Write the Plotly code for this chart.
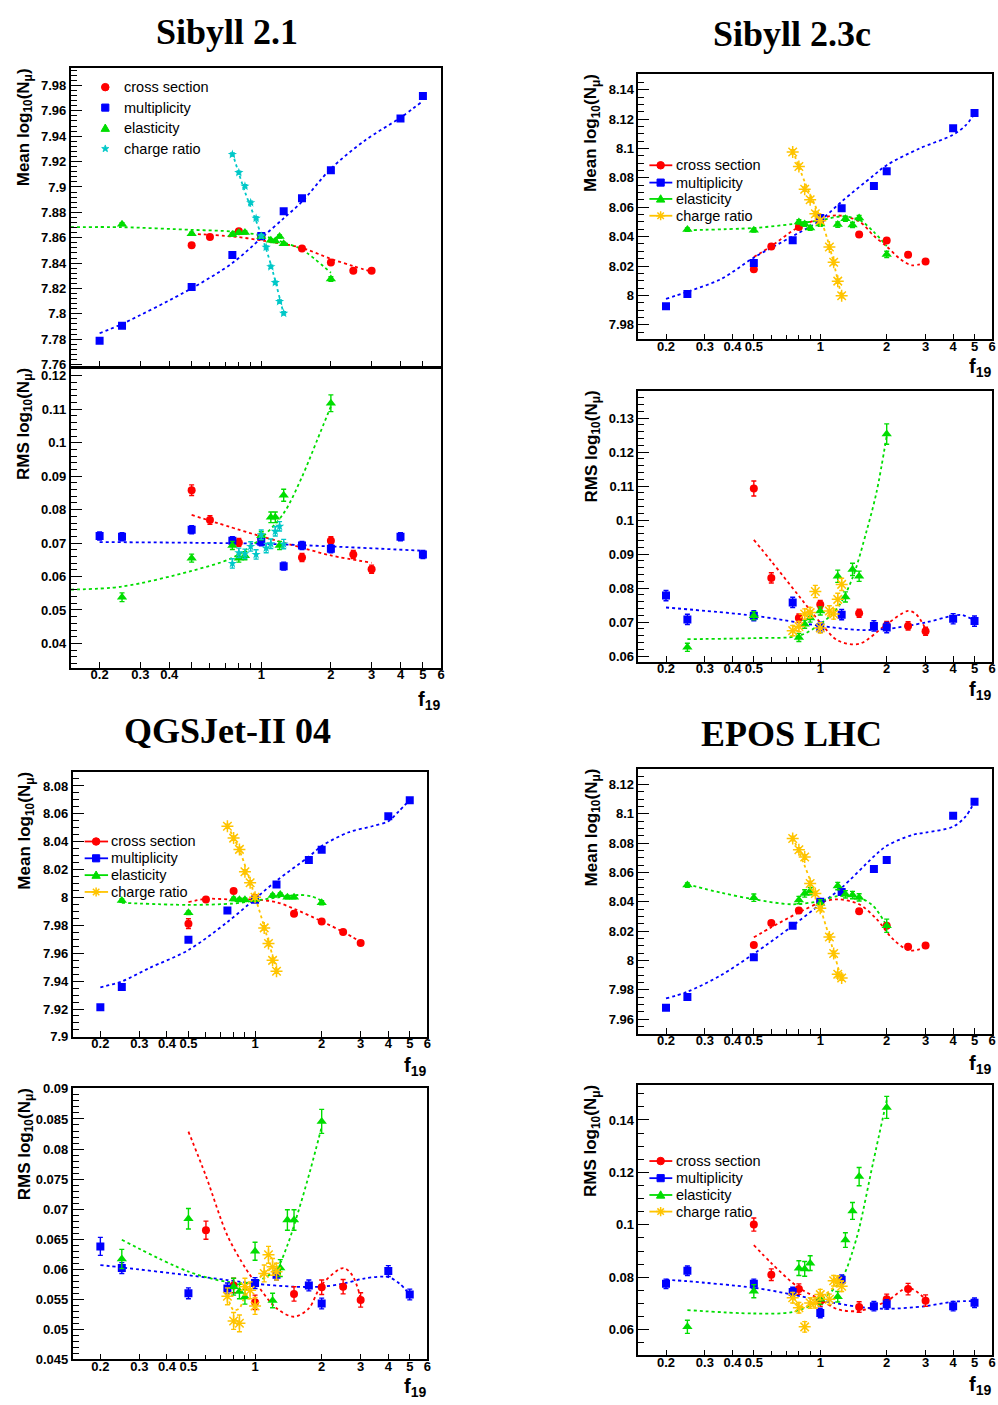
import math
import plotly.graph_objects as go

W, H = 998, 1405

# ---------------- colours / names ----------------
RED, BLUE, GREEN, YELLOW, CYAN = "#ff0000", "#0000ff", "#00dd00", "#ffc400", "#00c8c8"
SERIES_NAMES = ["cross section", "multiplicity", "elasticity", "charge ratio"]
MODEL_TITLES = ["Sibyll 2.1", "Sibyll 2.3c", "QGSJet-II 04", "EPOS LHC"]

# ---------------- tick labels ----------------
X_TICKS = [0.2, 0.3, 0.4, 0.5, 1, 2, 3, 4, 5, 6]
X_TICK_TEXT = ["0.2", "0.3", "0.4", "0.5", "1", "2", "3", "4", "5", "6"]
X_TICK_TEXT_S21 = ["0.2", "0.3", "0.4", "", "1", "2", "3", "4", "5", "6"]
X_MINOR = [0.6, 0.7, 0.8, 0.9]
X_RANGE = [0.15, 6]

Y1_TICKS = [7.76, 7.78, 7.8, 7.82, 7.84, 7.86, 7.88, 7.9, 7.92, 7.94, 7.96, 7.98]
Y2_TICKS = [0.04, 0.05, 0.06, 0.07, 0.08, 0.09, 0.1, 0.11, 0.12]
Y3_TICKS = [7.98, 8, 8.02, 8.04, 8.06, 8.08, 8.1, 8.12, 8.14]
Y4_TICKS = [0.06, 0.07, 0.08, 0.09, 0.1, 0.11, 0.12, 0.13]
Y5_TICKS = [7.9, 7.92, 7.94, 7.96, 7.98, 8, 8.02, 8.04, 8.06, 8.08]
Y6_TICKS = [0.045, 0.05, 0.055, 0.06, 0.065, 0.07, 0.075, 0.08, 0.085, 0.09]
Y7_TICKS = [7.96, 7.98, 8, 8.02, 8.04, 8.06, 8.08, 8.1, 8.12]
Y8_TICKS = [0.06, 0.08, 0.1, 0.12, 0.14]

# ================= Sibyll 2.1 =================
S21_CS_X = [0.5, 0.6, 0.8, 1, 1.5, 2, 2.5, 3]
S21_MU_X = [0.2, 0.25, 0.5, 0.75, 1, 1.25, 1.5, 2, 4, 5]
S21_EL_X = [0.25, 0.5, 0.75, 0.8, 0.85, 1, 1.1, 1.15, 1.2, 1.25, 2]
S21_CR_X = [0.75, 0.8, 0.85, 0.9, 0.95, 1, 1.05, 1.1, 1.15, 1.2, 1.25]

S21_CS_MEAN = [7.854, 7.8605, 7.865, 7.861, 7.8515, 7.8405, 7.834, 7.834]
S21_MU_MEAN = [7.7788, 7.7907, 7.8212, 7.8464, 7.8613, 7.8808, 7.8912, 7.9131, 7.954, 7.9717]
S21_EL_MEAN = [7.8707, 7.8631, 7.8626, 7.8639, 7.8641, 7.861, 7.8579, 7.8574, 7.861, 7.8553, 7.8274]
S21_CR_MEAN = [7.9256, 7.9113, 7.9006, 7.8876, 7.8753, 7.8613, 7.8524, 7.8371, 7.8246, 7.8097, 7.8004]
S21_CS_MEAN_ERR = [0.0012, 0.0012, 0.0012, 0.0012, 0.0012, 0.0012, 0.0012, 0.0012]
S21_MU_MEAN_ERR = [0.0012, 0.0012, 0.0012, 0.0012, 0.0012, 0.0012, 0.0012, 0.0012, 0.0012, 0.0012]
S21_EL_MEAN_ERR = [0.0012, 0.0012, 0.0012, 0.0012, 0.0012, 0.0012, 0.0012, 0.0012, 0.0012, 0.0012, 0.0018]
S21_CR_MEAN_ERR = [0.0012, 0.0012, 0.0012, 0.0012, 0.0012, 0.0012, 0.0012, 0.0012, 0.0012, 0.0012, 0.0012]

S21_CS_RMS = [0.0858, 0.0769, 0.0702, 0.0715, 0.0657, 0.0707, 0.0666, 0.0622]
S21_MU_RMS = [0.0721, 0.0719, 0.074, 0.0707, 0.0704, 0.0631, 0.0693, 0.0683, 0.0719, 0.0666]
S21_EL_RMS = [0.0538, 0.0655, 0.0693, 0.0655, 0.0662, 0.0722, 0.0777, 0.0777, 0.0693, 0.0843, 0.1118]
S21_CR_RMS = [0.0639, 0.0671, 0.0668, 0.069, 0.0666, 0.0725, 0.0685, 0.0698, 0.0735, 0.075, 0.0697]
S21_CS_RMS_ERR = [0.0016, 0.0013, 0.0012, 0.0012, 0.0012, 0.0012, 0.0012, 0.0012]
S21_MU_RMS_ERR = [0.0012, 0.0012, 0.0012, 0.0012, 0.0012, 0.0012, 0.0012, 0.0012, 0.0012, 0.0012]
S21_EL_RMS_ERR = [0.0013, 0.0012, 0.0012, 0.0012, 0.0012, 0.0012, 0.0016, 0.0016, 0.0012, 0.0018, 0.0025]
S21_CR_RMS_ERR = [0.0014, 0.0014, 0.0014, 0.0014, 0.0014, 0.0014, 0.0014, 0.0014, 0.0014, 0.0014, 0.0014]

FIT_S21_CS_MEAN_X = [0.5, 0.75, 1, 1.5, 2, 2.5, 3]
FIT_S21_CS_MEAN_Y = [7.8631, 7.861, 7.8579, 7.8519, 7.8433, 7.8376, 7.8332]
FIT_S21_MU_MEAN_X = [0.2, 0.25, 0.5, 0.75, 1, 1.25, 1.5, 2, 2.8, 4, 5]
FIT_S21_MU_MEAN_Y = [7.7847, 7.792, 7.8201, 7.840, 7.8597, 7.8753, 7.8884, 7.9144, 7.9365, 7.9547, 7.9678]
FIT_S21_EL_MEAN_X = [0.15, 0.25, 0.5, 0.75, 1, 1.25, 1.5, 2]
FIT_S21_EL_MEAN_Y = [7.8683, 7.8683, 7.8662, 7.8649, 7.8618, 7.8563, 7.8506, 7.8324]
FIT_S21_CR_MEAN_X = [0.75, 0.85, 1, 1.1, 1.25]
FIT_S21_CR_MEAN_Y = [7.9269, 7.8962, 7.8623, 7.8389, 7.7998]

FIT_S21_CS_RMS_X = [0.5, 0.8, 1, 1.5, 2, 3]
FIT_S21_CS_RMS_Y = [0.0784, 0.074, 0.072, 0.0686, 0.0663, 0.0641]
FIT_S21_MU_RMS_X = [0.2, 0.5, 1, 2, 5]
FIT_S21_MU_RMS_Y = [0.0703, 0.0701, 0.0698, 0.069, 0.0677]
FIT_S21_EL_RMS_X = [0.15, 0.25, 0.5, 0.75, 1, 1.25, 1.5, 1.75, 2]
FIT_S21_EL_RMS_Y = [0.0561, 0.057, 0.0617, 0.0656, 0.0715, 0.0789, 0.0898, 0.101, 0.1109]

# ================= Sibyll 2.3c =================
S23_CS_X = [0.5, 0.6, 0.8, 1, 1.5, 2, 2.5, 3]
S23_MU_X = [0.2, 0.25, 0.5, 0.75, 1, 1.25, 1.75, 2, 4, 5]
S23_EL_X = [0.25, 0.5, 0.8, 0.85, 0.9, 1, 1.2, 1.3, 1.4, 1.5, 2]
S23_CR_X = [0.75, 0.8, 0.85, 0.9, 0.95, 1, 1.1, 1.15, 1.2, 1.25]

S23_CS_MEAN = [8.0178, 8.0333, 8.0466, 8.051, 8.0414, 8.0374, 8.0277, 8.023]
S23_MU_MEAN = [7.9926, 8.0009, 8.0221, 8.0376, 8.0527, 8.0594, 8.0745, 8.0846, 8.1139, 8.1242]
S23_EL_MEAN = [8.0448, 8.0444, 8.05, 8.0486, 8.0459, 8.0486, 8.0482, 8.0522, 8.048, 8.0527, 8.0279]
S23_CR_MEAN = [8.0977, 8.0878, 8.0723, 8.0651, 8.0556, 8.0509, 8.0329, 8.0225, 8.0097, 7.9998]
S23_CS_MEAN_ERR = [0.0015, 0.0015, 0.0015, 0.0015, 0.0015, 0.0015, 0.0015, 0.0015]
S23_MU_MEAN_ERR = [0.0012, 0.0012, 0.0012, 0.0012, 0.0012, 0.0012, 0.0012, 0.0012, 0.0012, 0.0012]
S23_EL_MEAN_ERR = [0.0012, 0.0012, 0.0015, 0.0015, 0.0015, 0.0015, 0.0018, 0.0018, 0.0018, 0.0018, 0.0022]
S23_CR_MEAN_ERR = [0.0015, 0.0015, 0.0015, 0.0015, 0.0015, 0.0015, 0.0015, 0.0015, 0.0015, 0.0015]

S23_CS_RMS = [0.1093, 0.083, 0.0712, 0.0752, 0.0726, 0.069, 0.0689, 0.0673]
S23_MU_RMS = [0.0778, 0.0708, 0.0719, 0.0758, 0.0685, 0.0722, 0.0689, 0.0684, 0.071, 0.0703]
S23_EL_RMS = [0.0626, 0.0719, 0.0655, 0.0694, 0.0712, 0.0733, 0.0835, 0.0774, 0.0855, 0.0835, 0.1253]
S23_CR_RMS = [0.0675, 0.0687, 0.0724, 0.0728, 0.079, 0.0683, 0.0733, 0.0724, 0.0767, 0.0811]
S23_CS_RMS_ERR = [0.0022, 0.0015, 0.0012, 0.0012, 0.0012, 0.0012, 0.0012, 0.0012]
S23_MU_RMS_ERR = [0.0015, 0.0015, 0.0015, 0.0015, 0.0015, 0.0015, 0.0015, 0.0015, 0.0015, 0.0015]
S23_EL_RMS_ERR = [0.0012, 0.0012, 0.0012, 0.0012, 0.0012, 0.0012, 0.0018, 0.0015, 0.0018, 0.0015, 0.0030]
S23_CR_RMS_ERR = [0.0015, 0.0015, 0.0015, 0.0015, 0.0018, 0.0015, 0.0015, 0.0015, 0.0018, 0.0018]

FIT_S23_CS_MEAN_X = [0.5, 0.6, 0.8, 1, 1.2, 1.5, 1.75, 2, 2.3, 2.6, 3]
FIT_S23_CS_MEAN_Y = [8.0261, 8.0336, 8.0466, 8.0522, 8.0545, 8.0504, 8.0405, 8.0333, 8.0248, 8.0205, 8.0223]
FIT_S23_MU_MEAN_X = [0.2, 0.25, 0.355, 0.5, 0.75, 1, 1.25, 1.75, 2, 2.8, 4, 4.55, 5]
FIT_S23_MU_MEAN_Y = [7.9976, 8.0025, 8.0111, 8.0257, 8.0403, 8.0511, 8.0639, 8.0819, 8.0887, 8.0999, 8.1094, 8.1157, 8.1236]
FIT_S23_EL_MEAN_X = [0.25, 0.5, 0.75, 1, 1.25, 1.5, 1.735, 2]
FIT_S23_EL_MEAN_Y = [8.0444, 8.0459, 8.0486, 8.0511, 8.0538, 8.0516, 8.0437, 8.0336]
FIT_S23_CR_MEAN_X = [0.75, 0.85, 1, 1.1, 1.25]
FIT_S23_CR_MEAN_Y = [8.0988, 8.0774, 8.0527, 8.0336, 7.9987]

FIT_S23_CS_RMS_X = [0.5, 0.6, 0.8, 1, 1.2, 1.5, 2, 2.5, 2.72, 3]
FIT_S23_CS_RMS_Y = [0.0942, 0.0879, 0.0777, 0.0699, 0.0646, 0.0636, 0.0694, 0.0733, 0.0723, 0.068]
FIT_S23_MU_RMS_X = [0.2, 0.5, 1, 1.5, 2, 3, 4, 4.4, 5]
FIT_S23_MU_RMS_Y = [0.0743, 0.0719, 0.0689, 0.0677, 0.068, 0.0699, 0.0719, 0.0721, 0.0704]
FIT_S23_EL_RMS_X = [0.25, 0.5, 0.8, 1, 1.2, 1.4, 1.62, 1.8, 2]
FIT_S23_EL_RMS_Y = [0.065, 0.0653, 0.066, 0.0694, 0.0743, 0.083, 0.0967, 0.1083, 0.1248]

# ================= QGSJet-II 04 =================
QGS_CS_X = [0.5, 0.6, 0.8, 1, 1.5, 2, 2.5, 3]
QGS_MU_X = [0.2, 0.25, 0.5, 0.75, 1, 1.25, 1.75, 2, 4, 5]
QGS_EL_X = [0.25, 0.5, 0.8, 0.85, 0.9, 1, 1.2, 1.3, 1.4, 1.5, 2]
QGS_CR_X = [0.75, 0.8, 0.85, 0.9, 0.95, 1, 1.1, 1.15, 1.2, 1.25]

QGS_CS_MEAN = [7.9812, 7.9985, 8.0047, 7.9998, 7.9883, 7.9827, 7.9753, 7.9673]
QGS_MU_MEAN = [7.9213, 7.9358, 7.9696, 7.9907, 7.9983, 8.0094, 8.0269, 8.0343, 8.0582, 8.0698]
QGS_EL_MEAN = [7.9978, 7.989, 7.999, 7.9983, 7.9983, 7.9985, 8.0014, 8.0021, 8.0002, 8.0002, 7.9962]
QGS_CR_MEAN = [8.0511, 8.0426, 8.0345, 8.0184, 8.0106, 8.0002, 7.9782, 7.967, 7.9549, 7.9471]
QGS_CS_MEAN_ERR = [0.0035, 0.0015, 0.0015, 0.0015, 0.0015, 0.0015, 0.0015, 0.0015]
QGS_MU_MEAN_ERR = [0.0012, 0.0012, 0.0012, 0.0012, 0.0012, 0.0012, 0.0012, 0.0012, 0.0012, 0.0012]
QGS_EL_MEAN_ERR = [0.0012, 0.0012, 0.0012, 0.0012, 0.0012, 0.0012, 0.0012, 0.0012, 0.0012, 0.0012, 0.0015]
QGS_CR_MEAN_ERR = [0.0015, 0.0015, 0.0015, 0.0015, 0.0015, 0.0015, 0.0015, 0.0015, 0.0015, 0.0015]

QGS_CS_RMS = [None, 0.0665, 0.0573, 0.0545, 0.0559, 0.057, 0.0571, 0.0549]
QGS_MU_RMS = [0.0638, 0.0602, 0.056, 0.0568, 0.0577, 0.0591, 0.0573, 0.0543, 0.0597, 0.0558]
QGS_EL_RMS = [0.0617, 0.0684, 0.0571, 0.0563, 0.0554, 0.063, 0.0548, 0.0602, 0.0682, 0.0682, 0.0846]
QGS_CR_RMS = [0.0555, 0.0514, 0.051, 0.0571, 0.0565, 0.0539, 0.0593, 0.0624, 0.0604, 0.0596]
QGS_CS_RMS_ERR = [0, 0.0015, 0.0012, 0.0012, 0.0012, 0.0012, 0.0012, 0.0012]
QGS_MU_RMS_ERR = [0.0015, 0.0009, 0.0009, 0.0009, 0.0009, 0.0009, 0.0009, 0.0009, 0.0009, 0.0009]
QGS_EL_RMS_ERR = [0.0016, 0.0017, 0.0014, 0.0012, 0.0012, 0.0015, 0.0012, 0.0014, 0.0017, 0.0017, 0.0020]
QGS_CR_RMS_ERR = [0.0014, 0.0014, 0.0014, 0.0014, 0.0014, 0.0014, 0.0014, 0.0014, 0.0014, 0.0014]

FIT_QGS_CS_MEAN_X = [0.5, 0.6, 0.8, 1, 1.25, 1.5, 2, 2.5, 3]
FIT_QGS_CS_MEAN_Y = [7.9966, 7.999, 7.9985, 7.9985, 7.9966, 7.9919, 7.9829, 7.9753, 7.9682]
FIT_QGS_MU_MEAN_X = [0.2, 0.25, 0.332, 0.5, 0.75, 1, 1.25, 1.75, 2, 2.65, 3.38, 4, 4.46, 5]
FIT_QGS_MU_MEAN_Y = [7.9355, 7.9398, 7.9493, 7.9623, 7.9824, 7.999, 8.012, 8.0293, 8.0369, 8.0468, 8.0511, 8.0547, 8.0618, 8.07]
FIT_QGS_EL_MEAN_X = [0.25, 0.5, 0.8, 1, 1.3, 1.58, 1.81, 2]
FIT_QGS_EL_MEAN_Y = [7.9962, 7.9947, 7.9957, 7.9978, 8.0002, 8.0018, 8.0007, 7.9978]
FIT_QGS_CR_MEAN_X = [0.75, 0.85, 1, 1.1, 1.25]
FIT_QGS_CR_MEAN_Y = [8.0516, 8.034, 8.0005, 7.979, 7.9481]

FIT_QGS_CS_RMS_X = [0.5, 0.6, 0.75, 0.908, 1, 1.25, 1.5, 1.75, 2, 2.5, 2.75, 3]
FIT_QGS_CS_RMS_Y = [0.0829, 0.0755, 0.0656, 0.0601, 0.0579, 0.0535, 0.0521, 0.0535, 0.0574, 0.0602, 0.059, 0.0552]
FIT_QGS_MU_RMS_X = [0.2, 0.25, 0.5, 0.75, 1, 1.5, 2, 2.5, 3.16, 4, 4.5, 5]
FIT_QGS_MU_RMS_Y = [0.0607, 0.0603, 0.059, 0.0582, 0.0576, 0.0571, 0.0571, 0.0576, 0.0585, 0.0587, 0.0576, 0.0558]
FIT_QGS_EL_RMS_X = [0.25, 0.5, 0.75, 1, 1.25, 1.4, 1.58, 1.78, 2]
FIT_QGS_EL_RMS_Y = [0.0649, 0.0596, 0.0579, 0.0579, 0.0601, 0.064, 0.07, 0.0766, 0.0837]
FIT_QGS_CR_RMS_X = [0.75, 0.8, 0.85, 0.9, 1, 1.1, 1.25]
FIT_QGS_CR_RMS_Y = [0.0556, 0.0532, 0.0535, 0.0555, 0.0573, 0.0596, 0.0605]

# ================= EPOS LHC =================
EPOS_CS_X = [0.5, 0.6, 0.8, 1, 1.5, 2, 2.5, 3]
EPOS_MU_X = [0.2, 0.25, 0.5, 0.75, 1, 1.25, 1.75, 2, 4, 5]
EPOS_EL_X = [0.25, 0.5, 0.8, 0.85, 0.9, 1, 1.2, 1.3, 1.4, 1.5, 2]
EPOS_CR_X = [0.75, 0.8, 0.85, 0.9, 0.95, 1, 1.1, 1.15, 1.2, 1.25]

EPOS_CS_MEAN = [8.0106, 8.0255, 8.034, 8.040, 8.0336, 8.0237, 8.0093, 8.0102]
EPOS_MU_MEAN = [7.9679, 7.9751, 8.0023, 8.0237, 8.0401, 8.0466, 8.0624, 8.0685, 8.0986, 8.1081]
EPOS_EL_MEAN = [8.0514, 8.0428, 8.0412, 8.0457, 8.0473, 8.039, 8.0507, 8.0451, 8.0446, 8.043, 8.0237]
EPOS_CR_MEAN = [8.0831, 8.0754, 8.0705, 8.0525, 8.0457, 8.0356, 8.016, 8.0048, 7.9906, 7.9881]
EPOS_CS_MEAN_ERR = [0.0015, 0.0015, 0.0015, 0.0015, 0.0015, 0.0015, 0.0015, 0.0015]
EPOS_MU_MEAN_ERR = [0.0012, 0.0012, 0.0012, 0.0012, 0.0012, 0.0012, 0.0012, 0.0012, 0.0012, 0.0012]
EPOS_EL_MEAN_ERR = [0.0015, 0.0025, 0.0025, 0.0025, 0.0025, 0.0025, 0.0025, 0.0025, 0.0025, 0.0025, 0.0045]
EPOS_CR_MEAN_ERR = [0.0015, 0.0015, 0.0015, 0.0015, 0.0015, 0.0015, 0.0015, 0.0015, 0.0015, 0.0015]

EPOS_CS_RMS = [0.1001, 0.081, 0.0755, 0.0709, 0.0687, 0.0716, 0.0755, 0.0711]
EPOS_MU_RMS = [0.0775, 0.0825, 0.0775, 0.0744, 0.0664, 0.0791, 0.069, 0.0697, 0.069, 0.0703]
EPOS_EL_RMS = [0.0611, 0.0747, 0.0835, 0.0832, 0.0854, 0.0716, 0.0726, 0.0942, 0.1053, 0.1184, 0.1448]
EPOS_CR_RMS = [0.0722, 0.0684, 0.0611, 0.0702, 0.0703, 0.0734, 0.0716, 0.0787, 0.0785, 0.0766]
EPOS_CS_RMS_ERR = [0.0025, 0.0022, 0.002, 0.002, 0.002, 0.002, 0.0022, 0.0022]
EPOS_MU_RMS_ERR = [0.0018, 0.0018, 0.0018, 0.0018, 0.0018, 0.0018, 0.0018, 0.0018, 0.0018, 0.0018]
EPOS_EL_RMS_ERR = [0.0025, 0.0025, 0.0028, 0.0028, 0.0028, 0.002, 0.002, 0.0028, 0.0032, 0.0035, 0.0042]
EPOS_CR_RMS_ERR = [0.002, 0.002, 0.002, 0.002, 0.002, 0.002, 0.002, 0.002, 0.002, 0.002]

FIT_EPOS_CS_MEAN_X = [0.5, 0.6, 0.8, 1, 1.2, 1.5, 1.8, 2.13, 2.54, 3]
FIT_EPOS_CS_MEAN_Y = [8.0158, 8.0226, 8.0327, 8.0394, 8.0417, 8.0383, 8.0282, 8.0147, 8.0068, 8.0091]
FIT_EPOS_MU_MEAN_X = [0.2, 0.25, 0.355, 0.5, 0.75, 1, 1.25, 1.75, 2, 2.62, 3, 4, 4.55, 5]
FIT_EPOS_MU_MEAN_Y = [7.9742, 7.9787, 7.99, 8.0046, 8.0237, 8.0383, 8.0496, 8.0709, 8.0781, 8.0856, 8.0871, 8.0912, 8.098, 8.1081]
FIT_EPOS_EL_MEAN_X = [0.25, 0.355, 0.5, 0.75, 1, 1.2, 1.5, 1.735, 2]
FIT_EPOS_EL_MEAN_Y = [8.0518, 8.0462, 8.0417, 8.0383, 8.0406, 8.0439, 8.0428, 8.0372, 8.0237]
FIT_EPOS_CR_MEAN_X = [0.75, 0.85, 1, 1.1, 1.25]
FIT_EPOS_CR_MEAN_Y = [8.084, 8.0645, 8.0356, 8.0158, 7.9866]

FIT_EPOS_CS_RMS_X = [0.5, 0.6, 0.8, 1, 1.2, 1.5, 2, 2.5, 3]
FIT_EPOS_CS_RMS_Y = [0.0923, 0.0854, 0.076, 0.0716, 0.0678, 0.0672, 0.0709, 0.076, 0.0716]
FIT_EPOS_MU_RMS_X = [0.2, 0.25, 0.5, 0.75, 1, 1.5, 2, 3, 4, 5]
FIT_EPOS_MU_RMS_Y = [0.0791, 0.0785, 0.076, 0.0734, 0.0712, 0.0687, 0.068, 0.069, 0.0707, 0.0709]
FIT_EPOS_EL_RMS_X = [0.25, 0.5, 0.75, 1, 1.2, 1.3, 1.4, 1.5, 1.735, 2]
FIT_EPOS_EL_RMS_Y = [0.0675, 0.0662, 0.0668, 0.0712, 0.0772, 0.0822, 0.0898, 0.0986, 0.1237, 0.1475]
FIT_EPOS_CR_RMS_X = [0.75, 0.8, 0.9, 1, 1.15, 1.25]
FIT_EPOS_CR_RMS_Y = [0.0747, 0.069, 0.0695, 0.0718, 0.076, 0.077]

# ---------------- styles ----------------
STY_CS = dict(color=RED, symbol="circle", size=8)
STY_MU = dict(color=BLUE, symbol="square", size=8)
STY_EL = dict(color=GREEN, symbol="triangle-up", size=9)
STY_CR_S21 = dict(color=CYAN, symbol="star", size=7)
STY_CR = dict(color=YELLOW, symbol="asterisk-open", size=10)

# ---------------- panel table (layout in page pixels) ----------------
PANELS = [
    dict(k=1, px=(71, 443), py=(62, 364), yr=(7.758, 7.9935), yt=Y1_TICKS, minor=0.004, xlabels=False,
         ytitle="Mean", ftitle=None, xtext=X_TICK_TEXT_S21, ytx=25,
         series=[(S21_CS_X, S21_CS_MEAN, S21_CS_MEAN_ERR, STY_CS), (S21_MU_X, S21_MU_MEAN, S21_MU_MEAN_ERR, STY_MU),
                 (S21_EL_X, S21_EL_MEAN, S21_EL_MEAN_ERR, STY_EL), (S21_CR_X, S21_CR_MEAN, S21_CR_MEAN_ERR, STY_CR_S21)],
         fits=[(FIT_S21_CS_MEAN_X, FIT_S21_CS_MEAN_Y, RED), (FIT_S21_MU_MEAN_X, FIT_S21_MU_MEAN_Y, BLUE),
               (FIT_S21_EL_MEAN_X, FIT_S21_EL_MEAN_Y, GREEN), (FIT_S21_CR_MEAN_X, FIT_S21_CR_MEAN_Y, CYAN)]),
    dict(k=2, px=(71, 443), py=(365, 668), yr=(0.0327, 0.1223), yt=Y2_TICKS, minor=0.002, xlabels=True,
         ytitle="RMS", ftitle=701, xtext=X_TICK_TEXT_S21, ytx=25,
         series=[(S21_CS_X, S21_CS_RMS, S21_CS_RMS_ERR, STY_CS), (S21_MU_X, S21_MU_RMS, S21_MU_RMS_ERR, STY_MU),
                 (S21_EL_X, S21_EL_RMS, S21_EL_RMS_ERR, STY_EL), (S21_CR_X, S21_CR_RMS, S21_CR_RMS_ERR, STY_CR_S21)],
         fits=[(FIT_S21_CS_RMS_X, FIT_S21_CS_RMS_Y, RED), (FIT_S21_MU_RMS_X, FIT_S21_MU_RMS_Y, BLUE),
               (FIT_S21_EL_RMS_X, FIT_S21_EL_RMS_Y, GREEN)]),
    dict(k=3, px=(641, 996), py=(68, 336), yr=(7.97, 8.1506), yt=Y3_TICKS, minor=0.005, xlabels=True,
         ytitle="Mean", ftitle=364, xtext=X_TICK_TEXT, ytx=595,
         series=[(S23_CS_X, S23_CS_MEAN, S23_CS_MEAN_ERR, STY_CS), (S23_MU_X, S23_MU_MEAN, S23_MU_MEAN_ERR, STY_MU),
                 (S23_EL_X, S23_EL_MEAN, S23_EL_MEAN_ERR, STY_EL), (S23_CR_X, S23_CR_MEAN, S23_CR_MEAN_ERR, STY_CR)],
         fits=[(FIT_S23_CS_MEAN_X, FIT_S23_CS_MEAN_Y, RED), (FIT_S23_MU_MEAN_X, FIT_S23_MU_MEAN_Y, BLUE),
               (FIT_S23_EL_MEAN_X, FIT_S23_EL_MEAN_Y, GREEN), (FIT_S23_CR_MEAN_X, FIT_S23_CR_MEAN_Y, YELLOW)]),
    dict(k=4, px=(641, 996), py=(388, 662), yr=(0.0583, 0.138), yt=Y4_TICKS, minor=0.002, xlabels=True,
         ytitle="RMS", ftitle=691, xtext=X_TICK_TEXT, ytx=595,
         series=[(S23_CS_X, S23_CS_RMS, S23_CS_RMS_ERR, STY_CS), (S23_MU_X, S23_MU_RMS, S23_MU_RMS_ERR, STY_MU),
                 (S23_EL_X, S23_EL_RMS, S23_EL_RMS_ERR, STY_EL), (S23_CR_X, S23_CR_RMS, S23_CR_RMS_ERR, STY_CR)],
         fits=[(FIT_S23_CS_RMS_X, FIT_S23_CS_RMS_Y, RED), (FIT_S23_MU_RMS_X, FIT_S23_MU_RMS_Y, BLUE),
               (FIT_S23_EL_RMS_X, FIT_S23_EL_RMS_Y, GREEN)]),
    dict(k=5, px=(73, 429), py=(773, 1041), yr=(7.9, 8.0902), yt=Y5_TICKS, minor=0.005, xlabels=True,
         ytitle="Mean", ftitle=1071, xtext=X_TICK_TEXT, ytx=26,
         series=[(QGS_CS_X, QGS_CS_MEAN, QGS_CS_MEAN_ERR, STY_CS), (QGS_MU_X, QGS_MU_MEAN, QGS_MU_MEAN_ERR, STY_MU),
                 (QGS_EL_X, QGS_EL_MEAN, QGS_EL_MEAN_ERR, STY_EL), (QGS_CR_X, QGS_CR_MEAN, QGS_CR_MEAN_ERR, STY_CR)],
         fits=[(FIT_QGS_CS_MEAN_X, FIT_QGS_CS_MEAN_Y, RED), (FIT_QGS_MU_MEAN_X, FIT_QGS_MU_MEAN_Y, BLUE),
               (FIT_QGS_EL_MEAN_X, FIT_QGS_EL_MEAN_Y, GREEN), (FIT_QGS_CR_MEAN_X, FIT_QGS_CR_MEAN_Y, YELLOW)]),
    dict(k=6, px=(73, 429), py=(1093, 1367), yr=(0.045, 0.0901), yt=Y6_TICKS, minor=0.001, xlabels=True,
         ytitle="RMS", ftitle=1395, xtext=X_TICK_TEXT, ytx=26,
         series=[(QGS_CS_X, QGS_CS_RMS, QGS_CS_RMS_ERR, STY_CS), (QGS_MU_X, QGS_MU_RMS, QGS_MU_RMS_ERR, STY_MU),
                 (QGS_EL_X, QGS_EL_RMS, QGS_EL_RMS_ERR, STY_EL), (QGS_CR_X, QGS_CR_RMS, QGS_CR_RMS_ERR, STY_CR)],
         fits=[(FIT_QGS_CS_RMS_X, FIT_QGS_CS_RMS_Y, RED), (FIT_QGS_MU_RMS_X, FIT_QGS_MU_RMS_Y, BLUE),
               (FIT_QGS_EL_RMS_X, FIT_QGS_EL_RMS_Y, GREEN), (FIT_QGS_CR_RMS_X, FIT_QGS_CR_RMS_Y, YELLOW)]),
    dict(k=7, px=(641, 996), py=(770, 1038), yr=(7.95, 8.1306), yt=Y7_TICKS, minor=0.005, xlabels=True,
         ytitle="Mean", ftitle=1069, xtext=X_TICK_TEXT, ytx=595,
         series=[(EPOS_CS_X, EPOS_CS_MEAN, EPOS_CS_MEAN_ERR, STY_CS), (EPOS_MU_X, EPOS_MU_MEAN, EPOS_MU_MEAN_ERR, STY_MU),
                 (EPOS_EL_X, EPOS_EL_MEAN, EPOS_EL_MEAN_ERR, STY_EL), (EPOS_CR_X, EPOS_CR_MEAN, EPOS_CR_MEAN_ERR, STY_CR)],
         fits=[(FIT_EPOS_CS_MEAN_X, FIT_EPOS_CS_MEAN_Y, RED), (FIT_EPOS_MU_MEAN_X, FIT_EPOS_MU_MEAN_Y, BLUE),
               (FIT_EPOS_EL_MEAN_X, FIT_EPOS_EL_MEAN_Y, GREEN), (FIT_EPOS_CR_MEAN_X, FIT_EPOS_CR_MEAN_Y, YELLOW)]),
    dict(k=8, px=(641, 996), py=(1090, 1363), yr=(0.0502, 0.1532), yt=Y8_TICKS, minor=0.005, xlabels=True,
         ytitle="RMS", ftitle=1393, xtext=X_TICK_TEXT, ytx=595,
         series=[(EPOS_CS_X, EPOS_CS_RMS, EPOS_CS_RMS_ERR, STY_CS), (EPOS_MU_X, EPOS_MU_RMS, EPOS_MU_RMS_ERR, STY_MU),
                 (EPOS_EL_X, EPOS_EL_RMS, EPOS_EL_RMS_ERR, STY_EL), (EPOS_CR_X, EPOS_CR_RMS, EPOS_CR_RMS_ERR, STY_CR)],
         fits=[(FIT_EPOS_CS_RMS_X, FIT_EPOS_CS_RMS_Y, RED), (FIT_EPOS_MU_RMS_X, FIT_EPOS_MU_RMS_Y, BLUE),
               (FIT_EPOS_EL_RMS_X, FIT_EPOS_EL_RMS_Y, GREEN), (FIT_EPOS_CR_RMS_X, FIT_EPOS_CR_RMS_Y, YELLOW)]),
]

# legend boxes (page pixels): marker x, text x, row centres, optional line span, glyph styles
LEGENDS = [
    dict(mx=105.7, tx=122.5, rows=[81, 101.7, 122.5, 143.2], line=None,
         glyphs=["circle", "square", "triangle", "star"], colors=[RED, BLUE, GREEN, CYAN]),
    dict(mx=663.3, tx=677, rows=[160, 177.5, 194, 211], line=(652, 675),
         glyphs=["circle", "square", "triangle", "asterisk"], colors=[RED, BLUE, GREEN, YELLOW]),
    dict(mx=96.5, tx=109.5, rows=[843.5, 860.5, 877.5, 894.5], line=(85, 108.5),
         glyphs=["circle", "square", "triangle", "asterisk"], colors=[RED, BLUE, GREEN, YELLOW]),
    dict(mx=663.3, tx=677, rows=[1166.5, 1183.8, 1200.8, 1217.6], line=(652, 675),
         glyphs=["circle", "square", "triangle", "asterisk"], colors=[RED, BLUE, GREEN, YELLOW]),
]

TITLE_POS = [(228, 25), (795, 27), (228, 732), (795, 735)]

SANS = "Liberation Sans"
SERIF = "Liberation Serif"


def fx(p):
    return p / W


def fy(p):
    return 1 - p / H


def glyph_shapes(kind, cx, cy, color):
    """Legend symbol drawn as layout shapes, in paper coordinates."""
    out = []
    if kind == "circle":
        r = 3.8
        out.append(dict(type="circle", xref="paper", yref="paper", x0=fx(cx - r), x1=fx(cx + r),
                        y0=fy(cy + r), y1=fy(cy - r), fillcolor=color, line=dict(color=color, width=1)))
    elif kind == "square":
        r = 3.6
        out.append(dict(type="rect", xref="paper", yref="paper", x0=fx(cx - r), x1=fx(cx + r),
                        y0=fy(cy + r), y1=fy(cy - r), fillcolor=color, line=dict(color=color, width=1)))
    elif kind == "triangle":
        pts = [(cx, cy - 4.2), (cx - 4.2, cy + 3.2), (cx + 4.2, cy + 3.2)]
        path = "M " + " L ".join(f"{fx(a):.5f},{fy(b):.5f}" for a, b in pts) + " Z"
        out.append(dict(type="path", xref="paper", yref="paper", path=path, fillcolor=color,
                        line=dict(color=color, width=1)))
    elif kind == "star":
        pts = []
        for j in range(10):
            rr = 3.8 if j % 2 == 0 else 1.6
            ang = -math.pi / 2 + j * math.pi / 5
            pts.append((cx + rr * math.cos(ang), cy + rr * math.sin(ang)))
        path = "M " + " L ".join(f"{fx(a):.5f},{fy(b):.5f}" for a, b in pts) + " Z"
        out.append(dict(type="path", xref="paper", yref="paper", path=path, fillcolor=color,
                        line=dict(color=color, width=0.8)))
    elif kind == "asterisk":
        r = 4.6
        segs = []
        for j in range(4):
            ang = j * math.pi / 4
            dx, dy = r * math.cos(ang), r * math.sin(ang)
            segs.append(f"M {fx(cx - dx):.5f},{fy(cy - dy):.5f} L {fx(cx + dx):.5f},{fy(cy + dy):.5f}")
        out.append(dict(type="path", xref="paper", yref="paper", path=" ".join(segs),
                        line=dict(color=color, width=1.5)))
    return out


fig = go.Figure()
layout = dict(width=W, height=H, margin=dict(l=0, r=0, t=0, b=0),
              paper_bgcolor="white", plot_bgcolor="white", showlegend=False)
annotations = []
shapes = []

for P in PANELS:
    k = P["k"]
    sfx = "" if k == 1 else str(k)
    xa, ya = "x" + sfx, "y" + sfx
    # fitted curves
    for fxs, fys, col in P["fits"]:
        fig.add_trace(go.Scatter(x=fxs, y=fys, mode="lines", xaxis=xa, yaxis=ya, showlegend=False,
                                 hoverinfo="skip",
                                 line=dict(color=col, width=1.8, dash="3px,3px", shape="spline", smoothing=0.9)))
    # data points
    for i, (xs, ys, es, sty) in enumerate(P["series"]):
        mk = dict(color=sty["color"], symbol=sty["symbol"], size=sty["size"])
        if sty["symbol"] == "asterisk-open":
            mk["line"] = dict(color=sty["color"], width=1.5)
        fig.add_trace(go.Scatter(x=xs, y=ys, mode="markers", xaxis=xa, yaxis=ya, marker=mk,
                                 name=SERIES_NAMES[i], showlegend=False,
                                 error_y=dict(type="data", array=es, color=sty["color"], thickness=1.4, width=2.5)))
    # axes
    layout["xaxis" + sfx] = dict(
        type="log", domain=[fx(P["px"][0]), fx(P["px"][1])],
        range=[math.log10(X_RANGE[0]), math.log10(X_RANGE[1])], anchor=ya,
        tickmode="array", tickvals=X_TICKS, ticktext=P["xtext"], showticklabels=P["xlabels"],
        ticks="inside", ticklen=6, tickwidth=1, tickcolor="black", ticklabelstandoff=-6,
        minor=dict(tickmode="array", tickvals=X_MINOR, ticks="inside", ticklen=5, tickwidth=1, tickcolor="black"),
        tickfont=dict(family=SANS, size=13, color="black", weight="bold"),
        showline=True, linecolor="black", linewidth=1.6, mirror=True, showgrid=False, zeroline=False)
    layout["yaxis" + sfx] = dict(
        domain=[fy(P["py"][1]), fy(P["py"][0])], range=list(P["yr"]), anchor=xa,
        tickmode="array", tickvals=P["yt"], ticktext=[f"{v:g}" for v in P["yt"]],
        ticks="inside", ticklen=11, tickwidth=1, tickcolor="black",
        minor=dict(tickmode="linear", tick0=P["yt"][0], dtick=P["minor"], ticks="inside", ticklen=6,
                   tickwidth=1, tickcolor="black"),
        tickfont=dict(family=SANS, size=13, color="black", weight="bold"),
        showline=True, linecolor="black", linewidth=1.6, mirror=True, showgrid=False, zeroline=False)
    # y title
    annotations.append(dict(
        text=f"{P['ytitle']} log<sub>10</sub>(N<sub>μ</sub>)", textangle=-90, showarrow=False,
        xref="paper", yref="paper", x=fx(P["ytx"]), y=fy(P["py"][0] - 2), xanchor="center", yanchor="top",
        font=dict(family=SANS, size=17, color="black", weight="bold")))
    # x title
    if P["ftitle"] is not None:
        annotations.append(dict(
            text="f<sub>19</sub>", showarrow=False, xref="paper", yref="paper",
            x=fx(P["px"][1] + 1), y=fy(P["ftitle"]), xanchor="right", yanchor="middle",
            font=dict(family=SANS, size=20, color="black", weight="bold")))

# hand-placed legend boxes
for L in LEGENDS:
    for i, row in enumerate(L["rows"]):
        col = L["colors"][i]
        if L["line"] is not None:
            shapes.append(dict(type="line", xref="paper", yref="paper", x0=fx(L["line"][0]), x1=fx(L["line"][1]),
                               y0=fy(row), y1=fy(row), line=dict(color=col, width=1.8)))
        shapes.extend(glyph_shapes(L["glyphs"][i], L["mx"], row, col))
        annotations.append(dict(text=SERIES_NAMES[i], showarrow=False, xref="paper", yref="paper",
                                x=fx(L["tx"]), y=fy(row), xanchor="left", yanchor="middle",
                                font=dict(family=SANS, size=14.5, color="black")))

for (tx, ty), t in zip(TITLE_POS, MODEL_TITLES):
    annotations.append(dict(text=t, showarrow=False, xref="paper", yref="paper", x=fx(tx), y=fy(ty),
                            xanchor="center", yanchor="middle",
                            font=dict(family=SERIF, size=36, color="black", weight="bold")))

layout["annotations"] = annotations
layout["shapes"] = shapes
fig.update_layout(**layout)
fig.write_html("out.html")
